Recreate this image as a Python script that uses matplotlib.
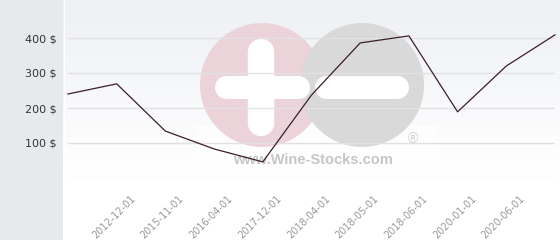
import numpy as np
import matplotlib
matplotlib.use("Agg")
import matplotlib.pyplot as plt
from matplotlib.patches import Circle, Rectangle
from matplotlib.transforms import offset_copy

# price history (one point per date)
values = [240, 269, 134, 83, 46, 237, 386, 406, 189, 320, 409]
date_labels = ["2012-12-01", "2015-11-01", "2016-04-01", "2017-12-01", "2018-04-01",
               "2018-05-01", "2018-06-01", "2020-01-01", "2020-06-01"]
y_ticks = [100, 200, 300, 400]
y_labels = [f"{v} $" for v in y_ticks]

W, H = 560, 240
fig = plt.figure(figsize=(W / 100, H / 100), dpi=100)

# background: grey side panel + gradient plot area
bg = fig.add_axes([0, 0, 1, 1], zorder=0)
bg.set_xlim(0, W)
bg.set_ylim(H, 0)
bg.axis("off")
top = np.array([0.933, 0.941, 0.957])
bottom = np.array([1.0, 1.0, 1.0])
t = np.linspace(0, 1, 200)[:, None]
grad = top + (bottom - top) * np.clip(t * 1.4, 0, 1)
bg.imshow(grad[:, None, :], extent=[63, W, H, 0], aspect="auto")
bg.add_patch(Rectangle((0, 0), 63, H, color="#e6eaed", lw=0))
bg.plot([63.5, 63.5], [0, H], color="white", lw=0.8)

# watermark logo
wm = fig.add_axes([0, 0, 1, 1], zorder=1)
wm.set_xlim(0, W)
wm.set_ylim(H, 0)
wm.axis("off")
wm.add_patch(Rectangle((197, 126), 240, 48, color="white", alpha=0.55, lw=0))
wm.add_patch(Circle((262, 85), 62, color="#ecd3da", lw=0))
wm.add_patch(Circle((362, 85), 62, color="#d9d9da", lw=0))
bar = 23 * 72 / 100
wm.plot([226, 298], [86.5, 86.5], color="white", lw=bar, solid_capstyle="round")
wm.plot([261, 261], [52, 123], color="white", lw=bar * 1.15, solid_capstyle="round")
wm.plot([326, 397], [86.5, 86.5], color="white", lw=bar, solid_capstyle="round")
wm.text(313, 160, "www.Wine-Stocks.com", ha="center", va="center", fontsize=10.5,
        fontweight="bold", color="#c6c6c6", family="Liberation Sans")
wm.text(413, 139, "®", ha="center", va="center", fontsize=10, color="#cfcfcf",
        family="Liberation Sans")

# main chart
ax = fig.add_axes([68 / W, (H - 178) / H, (555 - 68) / W, 175 / H], zorder=2)
ax.set_facecolor("none")
ax.set_xlim(0, len(values) - 1)
ax.set_ylim(0, 500)
for v in [0] + y_ticks:
    ax.axhline(v, color="#e2e2e4", lw=1, zorder=1)
ax.plot(range(len(values)), values, color="#3b1e2b", lw=0.9, zorder=3, clip_on=False)

for s in ax.spines.values():
    s.set_visible(False)
ax.set_yticks(y_ticks)
ax.set_yticklabels(y_labels, fontsize=8, color="#333333")
ax.tick_params(axis="y", length=0, pad=8)

ax.set_xticks(range(1, len(date_labels) + 1))
ax.set_xticklabels(date_labels, rotation=45, ha="right", va="center",
                   rotation_mode="anchor", fontsize=7, color="#999999")
ax.tick_params(axis="x", length=0, pad=14)
for lbl in ax.get_xticklabels():
    lbl.set_transform(offset_copy(lbl.get_transform(), fig=fig, x=17, y=0, units="dots"))

fig.savefig("out.png", dpi=100)
